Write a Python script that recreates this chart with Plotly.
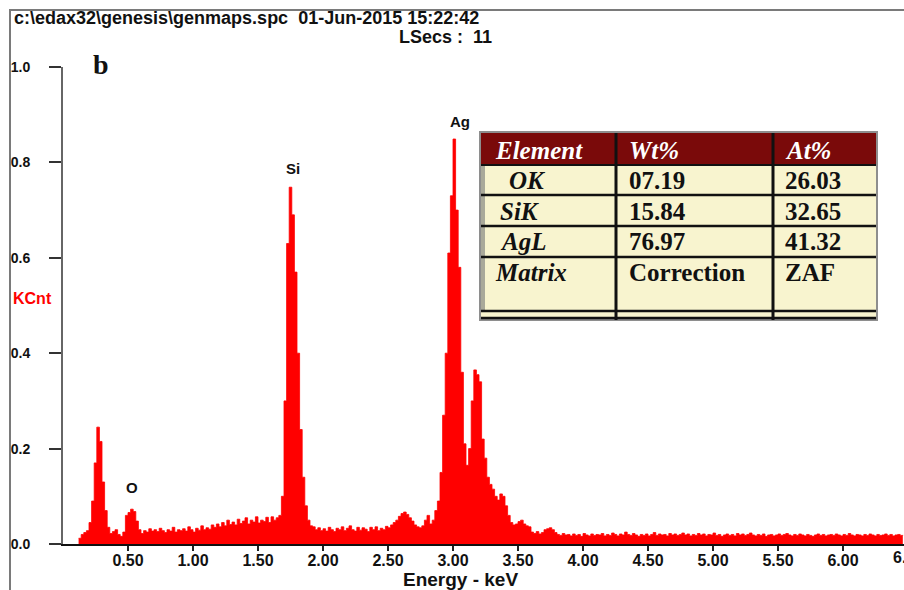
import plotly.graph_objects as go

# ---------------- data ----------------
energy_start_kev = 0.12
energy_step_kev = 0.02
kcnt = [
    0.012, 0.020, 0.024, 0.028, 0.045, 0.090, 0.170, 0.245, 0.215, 0.130,   # 0.12-0.30
    0.070, 0.035, 0.022, 0.026, 0.030, 0.020, 0.016, 0.025, 0.060, 0.066,   # 0.32-0.50
    0.073, 0.068, 0.048, 0.030, 0.022, 0.028, 0.025, 0.032, 0.027, 0.030,   # 0.52-0.70
    0.026, 0.033, 0.028, 0.024, 0.030, 0.027, 0.035, 0.025, 0.030, 0.028,   # 0.72-0.90
    0.032, 0.027, 0.036, 0.030, 0.025, 0.033, 0.029, 0.038, 0.030, 0.034,   # 0.92-1.10
    0.031, 0.040, 0.035, 0.042, 0.036, 0.045, 0.038, 0.050, 0.041, 0.046,   # 1.12-1.30
    0.040, 0.052, 0.043, 0.048, 0.055, 0.042, 0.050, 0.046, 0.057, 0.044,   # 1.32-1.50
    0.050, 0.047, 0.056, 0.045, 0.057, 0.050, 0.055, 0.060, 0.100, 0.300,   # 1.52-1.70
    0.630, 0.748, 0.690, 0.570, 0.400, 0.240, 0.140, 0.080, 0.050, 0.038,   # 1.72-1.90
    0.036, 0.030, 0.034, 0.028, 0.032, 0.027, 0.035, 0.030, 0.026, 0.033,   # 1.92-2.10
    0.030, 0.036, 0.028, 0.033, 0.038, 0.030, 0.027, 0.035, 0.029, 0.034,   # 2.12-2.30
    0.031, 0.026, 0.035, 0.030, 0.036, 0.028, 0.033, 0.030, 0.037, 0.034,   # 2.32-2.50
    0.040, 0.045, 0.050, 0.058, 0.064, 0.067, 0.062, 0.055, 0.048, 0.040,   # 2.52-2.70
    0.036, 0.034, 0.038, 0.050, 0.060, 0.042, 0.050, 0.070, 0.090, 0.150,   # 2.72-2.90
    0.270, 0.400, 0.610, 0.730, 0.849, 0.700, 0.580, 0.360, 0.210, 0.165,   # 2.92-3.10
    0.200, 0.300, 0.365, 0.355, 0.340, 0.220, 0.180, 0.140, 0.125, 0.115,   # 3.12-3.30
    0.100, 0.092, 0.105, 0.100, 0.080, 0.060, 0.045, 0.040, 0.042, 0.047,   # 3.32-3.50
    0.050, 0.042, 0.038, 0.036, 0.025, 0.022, 0.026, 0.021, 0.024, 0.030,   # 3.52-3.70
    0.032, 0.034, 0.030, 0.024, 0.020, 0.018, 0.022, 0.019, 0.020, 0.017,   # 3.72-3.90
    0.021, 0.018, 0.020, 0.016, 0.022, 0.019, 0.017, 0.021, 0.018, 0.020,   # 3.92-4.10
    0.019, 0.022, 0.017, 0.020, 0.018, 0.023, 0.020, 0.017, 0.021, 0.019,   # 4.12-4.30
    0.025, 0.020, 0.018, 0.022, 0.019, 0.016, 0.020, 0.018, 0.021, 0.017,   # 4.32-4.50
    0.020, 0.024, 0.018, 0.021, 0.019, 0.020, 0.017, 0.022, 0.019, 0.021,   # 4.52-4.70
    0.018, 0.020, 0.023, 0.019, 0.021, 0.017, 0.020, 0.018, 0.022, 0.019,   # 4.72-4.90
    0.021, 0.017, 0.020, 0.019, 0.023, 0.018, 0.020, 0.016, 0.019, 0.021,   # 4.92-5.10
    0.018, 0.020, 0.017, 0.022, 0.019, 0.021, 0.018, 0.020, 0.023, 0.019,   # 5.12-5.30
    0.017, 0.020, 0.018, 0.021, 0.016, 0.019, 0.020, 0.017, 0.019, 0.021,   # 5.32-5.50
    0.018, 0.020, 0.022, 0.019, 0.017, 0.020, 0.018, 0.021, 0.019, 0.017,   # 5.52-5.70
    0.020, 0.018, 0.016, 0.019, 0.021, 0.018, 0.020, 0.017, 0.019, 0.020,   # 5.72-5.90
    0.018, 0.021, 0.019, 0.017, 0.020, 0.018, 0.022, 0.019, 0.017, 0.020,   # 5.92-6.10
    0.019, 0.017, 0.020, 0.018, 0.021, 0.019, 0.017, 0.020, 0.018, 0.019,   # 6.12-6.30
    0.021, 0.018, 0.020, 0.017, 0.019, 0.020, 0.018, 0.019,                 # 6.32-6.46
]

x_tick_values = [0.5, 1.0, 1.5, 2.0, 2.5, 3.0, 3.5, 4.0, 4.5, 5.0, 5.5, 6.0]
x_tick_labels = ["0.50", "1.00", "1.50", "2.00", "2.50", "3.00", "3.50",
                 "4.00", "4.50", "5.00", "5.50", "6.00"]
x_edge_tick_value = 6.5          # just past the right edge, label is cut in the original
x_edge_tick_label = "6.50"
y_tick_values = [0.0, 0.2, 0.4, 0.6, 0.8, 1.0]
y_tick_labels = ["0.0", "0.2", "0.4", "0.6", "0.8", "1.0"]

peak_names = ["O", "Si", "Ag"]
peak_energy = [0.53, 1.77, 3.05]
peak_label_kcnt = [0.118, 0.788, 0.885]

table_header = ["Element", "Wt%", "At%"]
table_element = ["OK", "SiK", "AgL", "Matrix"]
table_wt = ["07.19", "15.84", "76.97", "Correction"]
table_at = ["26.03", "32.65", "41.32", "ZAF"]

header_line1 = "c:\\edax32\\genesis\\genmaps.spc\u00a0\u00a001-Jun-2015 15:22:42"
header_line2 = "LSecs :\u00a0\u00a011"

# ---------------- layout helpers (pixel -> paper) ----------------
W, H = 904, 590
ML, MR, MT, MB = 63, 0, 67, 46
PW, PH = W - ML - MR, H - MT - MB
PX_PER_KEV = 130.0


def fx(p):
    return (p - ML) / PW


def fy(p):
    return (H - MB - p) / PH


SANS = "Liberation Sans, Arial, sans-serif"
SERIF = "Liberation Serif, Times New Roman, serif"

fig = go.Figure()
fig.add_trace(go.Scatter(
    x0=energy_start_kev, dx=energy_step_kev, y=kcnt,
    mode="lines", line=dict(color="#ff0000", width=0.8, shape="hv"),
    fill="tozeroy", fillcolor="#ff0000", hoverinfo="skip", showlegend=False,
))

shapes = []
annotations = []

# outer frame (left + top)
shapes.append(dict(type="line", xref="paper", yref="paper", x0=fx(10), x1=fx(10), y0=fy(9), y1=fy(600),
                   line=dict(color="#7a7a7a", width=2)))
shapes.append(dict(type="line", xref="paper", yref="paper", x0=fx(9), x1=fx(910), y0=fy(10), y1=fy(10),
                   line=dict(color="#7a7a7a", width=2)))

# ---- composition table ----
TL, TR, TT, TB = 481, 876, 133, 320
HB = 165
col_x = [616, 773]
row_y = [195, 226, 257]

def rect(x0, y0, x1, y1, fill, lw=0, lc=None):
    shapes.append(dict(type="rect", xref="paper", yref="paper", layer="above",
                       x0=fx(x0), x1=fx(x1), y0=fy(y1), y1=fy(y0),
                       fillcolor=fill, line=dict(width=lw, color=lc or fill)))

def hline(y, x0, x1, color="#111", width=2.5):
    shapes.append(dict(type="line", xref="paper", yref="paper", layer="above",
                       x0=fx(x0), x1=fx(x1), y0=fy(y), y1=fy(y), line=dict(color=color, width=width)))

def vline(x, y0, y1, color="#111", width=3):
    shapes.append(dict(type="line", xref="paper", yref="paper", layer="above",
                       x0=fx(x), x1=fx(x), y0=fy(y0), y1=fy(y1), line=dict(color=color, width=width)))

rect(TL - 2, TT - 2, TR + 2, TB + 1, "#8e8e8e")
rect(TL, TT, TR, HB, "#7a0a0a")
rect(TL, HB, TR, TB - 2, "#f8f4cf")
rect(TL, HB, TL + 4, 310, "#a9a99a")
hline(HB, TL, TR, width=2)
for ry in row_y:
    hline(ry, TL, TR)
hline(311, TL, TR, width=2.5)
hline(318, TL, TR, width=2.5)
for cx in col_x:
    vline(cx, TT, TB)

col_text_x = [493, 627, 783]
header_y = 150
for i, t in enumerate(table_header):
    annotations.append(dict(xref="paper", yref="paper", x=fx(col_text_x[i]), y=fy(header_y),
                            xanchor="left", yanchor="middle", showarrow=False, text=t,
                            font=dict(family=SERIF, size=25, color="white", weight="bold", style="italic")))
row_text_y = [180, 211, 241, 272]
elem_x = [507, 498, 498, 493]
for i in range(len(table_element)):
    annotations.append(dict(xref="paper", yref="paper", x=fx(elem_x[i]), y=fy(row_text_y[i]),
                            xanchor="left", yanchor="middle", showarrow=False, text=table_element[i],
                            font=dict(family=SERIF, size=25, color="#111", weight="bold", style="italic")))
    annotations.append(dict(xref="paper", yref="paper", x=fx(col_text_x[1]), y=fy(row_text_y[i]),
                            xanchor="left", yanchor="middle", showarrow=False, text=table_wt[i],
                            font=dict(family=SERIF, size=25, color="#111", weight="bold")))
    annotations.append(dict(xref="paper", yref="paper", x=fx(col_text_x[2]), y=fy(row_text_y[i]),
                            xanchor="left", yanchor="middle", showarrow=False, text=table_at[i],
                            font=dict(family=SERIF, size=25, color="#111", weight="bold")))

# peak labels
for name, e, k in zip(peak_names, peak_energy, peak_label_kcnt):
    annotations.append(dict(xref="x", yref="y", x=e, y=k, showarrow=False, text=name,
                            xanchor="center", yanchor="middle",
                            font=dict(family=SANS, size=15, color="#111", weight="bold")))

# x tick label just past the right edge (only partly visible, as in the original)
annotations.append(dict(xref="paper", yref="paper", x=fx(ML + x_edge_tick_value * PX_PER_KEV), y=fy(557),
                        xanchor="center", yanchor="middle", showarrow=False, text=x_edge_tick_label,
                        font=dict(family=SANS, size=16, color="#111", weight="bold")))

# header texts
annotations.append(dict(xref="paper", yref="paper", x=fx(12), y=fy(18), xanchor="left", yanchor="middle",
                        showarrow=False, text=header_line1,
                        font=dict(family=SANS, size=18, color="#111", weight="bold")))
annotations.append(dict(xref="paper", yref="paper", x=fx(397), y=fy(37), xanchor="left", yanchor="middle",
                        showarrow=False, text=header_line2,
                        font=dict(family=SANS, size=18, color="#111", weight="bold")))
annotations.append(dict(xref="paper", yref="paper", x=fx(101), y=fy(65), xanchor="center", yanchor="middle",
                        showarrow=False, text="b",
                        font=dict(family=SERIF, size=28, color="#111", weight="bold")))
annotations.append(dict(xref="paper", yref="paper", x=fx(11), y=fy(298), xanchor="left", yanchor="middle",
                        showarrow=False, text="KCnt",
                        font=dict(family=SANS, size=16, color="#ff0000", weight="bold")))
annotations.append(dict(xref="paper", yref="paper", x=fx(460), y=fy(579), xanchor="center", yanchor="middle",
                        showarrow=False, text="Energy - keV",
                        font=dict(family=SANS, size=19, color="#111", weight="bold")))

fig.update_layout(
    width=W, height=H,
    margin=dict(l=ML, r=MR, t=MT, b=MB, pad=0),
    paper_bgcolor="white", plot_bgcolor="white",
    showlegend=False,
    shapes=shapes, annotations=annotations,
    xaxis=dict(range=[0, PW / PX_PER_KEV], tickvals=x_tick_values, ticktext=x_tick_labels,
               ticks="outside", ticklen=5, tickwidth=1.5, tickcolor="#222",
               showline=True, linecolor="#111", linewidth=2,
               showgrid=False, zeroline=False, ticklabeloverflow="allow",
               ticklabelstandoff=-4,
               tickfont=dict(family=SANS, size=16, color="#111", weight="bold")),
    yaxis=dict(range=[0, 1.0], tickvals=y_tick_values, ticktext=y_tick_labels,
               ticks="outside", ticklen=12, tickwidth=1.5, tickcolor="#333",
               showline=True, linecolor="#666", linewidth=2,
               showgrid=False, zeroline=False, ticklabelstandoff=16,
               tickfont=dict(family=SANS, size=14, color="#111", weight="bold")),
)

fig.write_html(
    "out.html",
    config={"displayModeBar": False},
    post_script="document.body.style.margin='0';document.body.style.overflow='hidden';",
)
